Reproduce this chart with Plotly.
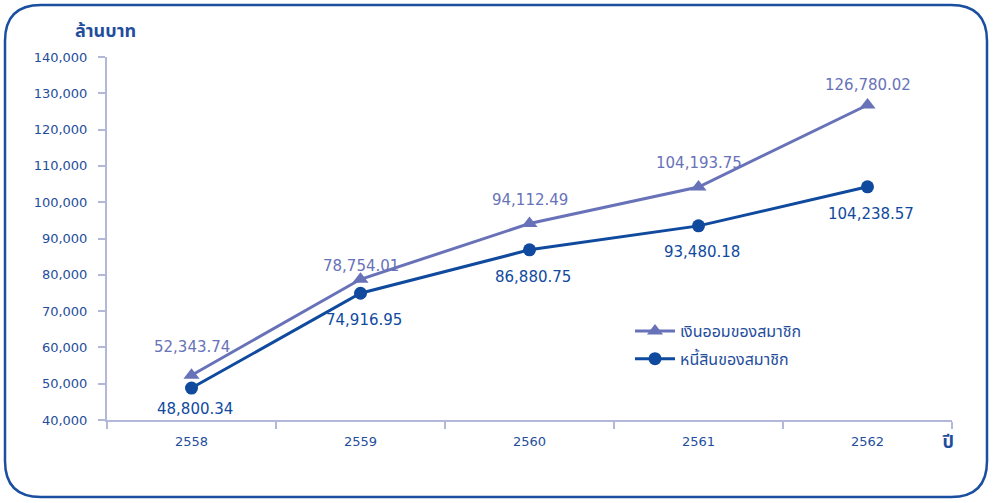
import plotly.graph_objects as go

years = ["2558", "2559", "2560", "2561", "2562"]
savings = [52343.74, 78754.01, 94112.49, 104193.75, 126780.02]
debts = [48800.34, 74916.95, 86880.75, 93480.18, 104238.57]
savings_name = "เงินออมของสมาชิก"
debts_name = "หนี้สินของสมาชิก"
y_ticks = [40000, 50000, 60000, 70000, 80000, 90000, 100000, 110000, 120000, 130000, 140000]

# label offsets (pixels) – style only
sav_shift = [28, 13, 24, 24, 20]
debt_shift = [-21, -27, -27, -26, -27]

W, H = 993, 503
L, R, T, B = 107, 41, 57, 83
pw, ph = W - L - R, H - T - B

def px(x):
    return (x - L) / pw

def py(y):
    return (H - B - y) / ph

txt = "#1f4e9c"
axis_col = "#b3b7da"
c1 = "#6872b8"
c2 = "#0f4a9e"
font = "'DejaVu Sans', Tahoma, 'Noto Sans Thai', 'Noto Sans', sans-serif"

fig = go.Figure()
fig.add_trace(go.Scatter(
    x=years, y=savings, name=savings_name, mode="lines+markers", legendgroup="s",
    line=dict(color=c1, width=3), marker=dict(symbol="triangle-up", size=14, color=c1),
))
fig.add_trace(go.Scatter(
    x=years, y=debts, name=debts_name, mode="lines+markers", legendgroup="d",
    line=dict(color=c2, width=3), marker=dict(symbol="circle", size=13, color=c2),
))

for i, (v, s) in enumerate(zip(savings, sav_shift)):
    fig.add_annotation(x=i, y=v, text=f"{v:,.2f}", showarrow=False, yshift=s,
                       xanchor="center", yanchor="middle",
                       font=dict(color=c1, size=15, family=font))
for i, (v, s) in enumerate(zip(debts, debt_shift)):
    fig.add_annotation(x=i, y=v, text=f"{v:,.2f}", showarrow=False, yshift=s, xshift=3,
                       xanchor="center", yanchor="middle",
                       font=dict(color=c2, size=15, family=font))

# rounded border
x0, x1, y0, y1, r = 5, 987, 5, 497, 36
path = (
    f"M {px(x0+r)},{py(y0)} L {px(x1-r)},{py(y0)} "
    f"Q {px(x1)},{py(y0)} {px(x1)},{py(y0+r)} L {px(x1)},{py(y1-r)} "
    f"Q {px(x1)},{py(y1)} {px(x1-r)},{py(y1)} L {px(x0+r)},{py(y1)} "
    f"Q {px(x0)},{py(y1)} {px(x0)},{py(y1-r)} L {px(x0)},{py(y0+r)} "
    f"Q {px(x0)},{py(y0)} {px(x0+r)},{py(y0)} Z"
)
fig.add_shape(type="path", path=path, xref="paper", yref="paper",
              line=dict(color="#1a4fa0", width=2.5), layer="below")

fig.add_annotation(text="<b>ล้านบาท</b>", xref="paper", yref="paper", x=px(105), y=py(30),
                   xanchor="center", yanchor="middle", showarrow=False,
                   font=dict(color=txt, size=18, family=font))
fig.add_annotation(text="<b>ปี</b>", xref="paper", yref="paper", x=px(948), y=py(441),
                   xanchor="center", yanchor="middle", showarrow=False,
                   font=dict(color=txt, size=18, family=font))

fig.update_layout(
    width=W, height=H, margin=dict(l=L, r=R, t=T, b=B),
    paper_bgcolor="white", plot_bgcolor="white",
    font=dict(family=font, color=txt, size=13),
    showlegend=True,
    legend=dict(x=px(630), y=py(314), xanchor="left", yanchor="top",
                font=dict(size=16, color=txt, family=font),
                bgcolor="rgba(0,0,0,0)", tracegroupgap=4, itemwidth=40),
    xaxis=dict(type="category", range=[-0.5, 4.5], showgrid=False,
               showline=True, linecolor=axis_col, linewidth=2,
               ticks="outside", tickson="boundaries", ticklen=7, tickcolor=axis_col, tickwidth=1.5,
               tickfont=dict(size=13, color=txt, family=font), ticklabelstandoff=8),
    yaxis=dict(range=[40000, 140000], tickvals=y_ticks, tickformat=",", showgrid=False,
               showline=True, linecolor=axis_col, linewidth=2, zeroline=False,
               ticks="outside", ticklen=7, tickcolor=axis_col, tickwidth=1.5,
               tickfont=dict(size=13, color=txt, family=font), ticklabelstandoff=8),
)

fig.write_html("out.html", config={"displayModeBar": False},
               post_script="document.body.style.margin='0';document.body.style.padding='0';")
